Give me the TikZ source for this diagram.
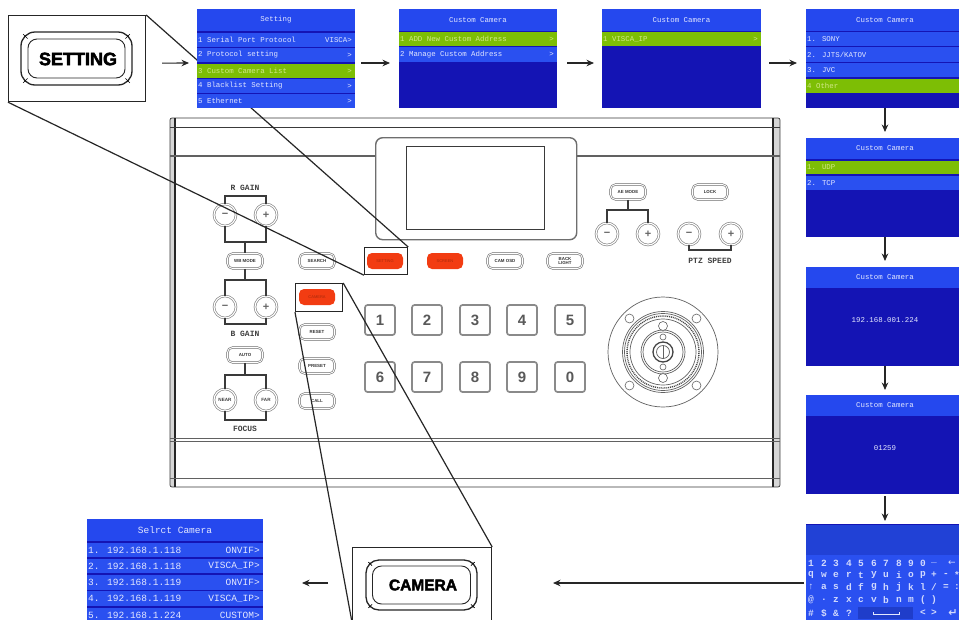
\documentclass[tikz,border=0pt]{standalone}
\usepackage{fontspec}
\setmainfont{Liberation Sans}
\newfontfamily\scrfont{Liberation Mono}
\newfontfamily\symfont{DejaVu Sans}
\newfontfamily\heavyfont[FakeBold=2.5]{Liberation Sans Bold}
\usetikzlibrary{arrows.meta}
\definecolor{hdrblue}{HTML}{2548EE}
\definecolor{rowblue}{HTML}{2A50F0}
\definecolor{darkblue}{HTML}{1414B4}
\definecolor{selgreen}{HTML}{7DBE05}
\definecolor{btnred}{HTML}{F23C12}
\definecolor{linegray}{HTML}{3A3A3A}
\definecolor{softgray}{HTML}{8A8A8A}
\definecolor{txtw}{HTML}{E4E8FF}
\definecolor{txtg}{HTML}{D2E88A}
\newcounter{rw}
\tikzset{
  screen/.style={anchor=north west,fill=darkblue,inner sep=0pt,outer sep=0pt,minimum height=99pt},
  band/.style={anchor=north west,inner sep=0pt,outer sep=0pt},
  stxt/.style={inner sep=0pt,text=txtw,font=\scrfont\fontsize{7.4}{8}\selectfont},
  gtxt/.style={stxt,text=txtg},
  bigtxt/.style={inner sep=0pt,text=txtw,font=\scrfont\fontsize{9.5}{10}\selectfont},
  flow/.style={draw=black!85,line width=1.1pt,-{Stealth[length=7.5pt,width=6.5pt]}},
  callout/.style={draw=black!85,line width=1.2pt},
  calloutbox/.style={callout,anchor=north west,inner sep=0pt},
  pline/.style={draw=linegray,line width=.7pt},
  pthick/.style={draw=linegray,line width=1.6pt},
  pbtn/.style={draw=softgray!80!black,line width=.6pt,double=white,double distance=.9pt,fill=white,rounded corners=5pt,
     minimum width=35pt,minimum height=15pt,inner sep=0pt,font=\bfseries\fontsize{4.4}{4.6}\selectfont,align=center,text=black!80},
  redbtn/.style={fill=btnred,draw=none,rounded corners=5pt,minimum width=36pt,minimum height=16pt,inner sep=0pt,
     font=\fontsize{4}{4}\selectfont,text=btnred!70!black},
  rbtn/.style={circle,draw=softgray,line width=.7pt,double=white,double distance=1.1pt,fill=white,minimum size=22pt,inner sep=0pt,
     font=\bfseries\fontsize{4.6}{5}\selectfont,text=black!75},
  sym/.style={rbtn,font=\bfseries\fontsize{11}{11}\selectfont,text=black!60},
  numkey/.style={draw=softgray,line width=1.7pt,fill=white,rounded corners=2.5pt,minimum size=30pt,inner sep=0pt,
     font=\bfseries\fontsize{15}{15}\selectfont,text=black!65},
  plabel/.style={inner sep=0pt,font=\scrfont\bfseries\fontsize{8}{8}\selectfont,text=black!75},
  bigbtn/.style={draw=black!85,line width=1pt,rounded corners=#1,inner sep=0pt},
  bigbtn/.default=12pt,
  key/.style={inner sep=0pt,text=txtw!90!rowblue,font=\scrfont\bfseries\fontsize{9.5}{10}\selectfont},
  jring/.style={draw=softgray!70!black,line width=.7pt},
  brk/.style={draw=linegray,line width=1.2pt},
}
% screen: name, x, y, width
\newcommand\scrn[4]{\node[screen,minimum width=#4pt] (#1) at (#2,#3) {};\def\curw{#4}}
% band: screen, dy, height, colour, style of text, left text, right text
\newcommand\scrband[7]{\stepcounter{rw}%
  \path (#1.north west) ++(0,#2) node[band,fill=#4,minimum width=\curw pt,minimum height=#3pt] (b\arabic{rw}) {};
  \node[#5,anchor=west] (bl\arabic{rw}) at ([xshift=1pt]b\arabic{rw}.west) {#6};
  \node[#5,anchor=east] (br\arabic{rw}) at ([xshift=-3pt]b\arabic{rw}.east) {#7};}
\newcommand\scrhead[3]{\stepcounter{rw}%
  \path (#1.north west) ++(0,0) node[band,fill=hdrblue,minimum width=\curw pt,minimum height=#3pt,stxt,align=center] (b\arabic{rw}) {#2};}
\begin{document}
\begin{tikzpicture}[x=1pt,y=-1pt]
\clip (0,0) rectangle (959,619);
\fill[white] (0,0) rectangle (959,619);

% ---------- console panel ----------
\fill[softgray!35] (170,118) rectangle (175,487);
\fill[softgray!35] (773,118) rectangle (780,487);
\draw[pline,rounded corners=2pt] (170,118) rectangle (780,487);
\draw[line width=1.6pt,draw=black!85] (175,118) -- (175,487);
\draw[line width=1.6pt,draw=black!85] (773,118) -- (773,487);
\draw[pline] (170,127) -- (780,127);
\draw[pthick,draw=softgray!70!black] (170,156) -- (375,156);
\draw[pthick,draw=softgray!70!black] (576,156) -- (780,156);
\draw[pline,draw=softgray!70!black] (170,438) -- (780,438);
\draw[pline,draw=softgray!70!black] (170,441) -- (780,441);
\draw[pline,draw=softgray!70!black] (170,478) -- (780,478);

% display
\node[draw=softgray!80!black,line width=1.4pt,rounded corners=7pt,minimum width=201pt,minimum height=102pt,inner sep=0pt,anchor=north west] (bezel) at (375,137) {};
\node[draw=linegray,line width=.8pt,minimum width=138pt,minimum height=83pt,inner sep=0pt,anchor=north west] (lcd) at (406,146) {};

% rocker groups
\node[sym] (rm) at (225,215) {−};
\node[sym] (rp) at (266,215) {+};
\node[plabel] (rgain) at (245,188) {R GAIN};
\coordinate (rtop) at (245,196);
\coordinate (rbot) at (245,242);
\draw[brk] (rm.north) |- (rtop) -| (rp.north);
\draw[brk] (rm.south) |- (rbot) -| (rp.south);
\node[pbtn] (wb) at (245,261) {WB MODE};
\draw[brk] (rbot) -- (wb.north);
\node[sym] (bm) at (225,307) {−};
\node[sym] (bp) at (266,307) {+};
\coordinate (btop) at (245,280);
\coordinate (bbot) at (245,324);
\draw[brk] (bm.north) |- (btop) -| (bp.north);
\draw[brk] (bm.south) |- (bbot) -| (bp.south);
\draw[brk] (wb.south) -- (btop);
\node[plabel] (bgain) at (245,334) {B GAIN};
\node[pbtn] (auto) at (245,355) {AUTO};
\node[rbtn] (near) at (225,400) {NEAR};
\node[rbtn] (far) at (266,400) {FAR};
\coordinate (atop) at (245,375);
\coordinate (abot) at (245,420);
\draw[brk] (auto.south) -- (atop);
\draw[brk] (near.north) |- (atop) -| (far.north);
\draw[brk] (near.south) |- (abot) -| (far.south);
\node[plabel] (focus) at (245,429) {FOCUS};

% column of buttons
\node[pbtn] (search) at (317,261) {SEARCH};
\node[redbtn] (camred) at (317,297) {CAMERA};
\node[pbtn] (reset) at (317,332) {RESET};
\node[pbtn] (preset) at (317,366) {PRESET};
\node[pbtn] (call) at (317,401) {CALL};
\node[redbtn] (setred) at (385,261) {SETTING};
\node[redbtn] (red2) at (445,261) {SCREEN};
\node[pbtn] (camosd) at (505,261) {CAM OSD};
\node[pbtn] (back) at (565,261) {BACK\\LIGHT};

% right rockers
\node[pbtn] (ae) at (628,192) {AE MODE};
\node[pbtn] (lock) at (710,192) {LOCK};
\node[sym] (am) at (607,234) {−};
\node[sym] (ap) at (648,234) {+};
\coordinate (aetop) at (628,210);
\draw[brk] (ae.south) -- (aetop);
\draw[brk] (am.north) |- (aetop) -| (ap.north);
\node[sym] (pm) at (689,234) {−};
\node[sym] (pp) at (731,234) {+};
\coordinate (ptzbot) at (710,250);
\draw[brk] (pm.south) |- (ptzbot) -| (pp.south);
\node[plabel] (ptz) at (710,261) {PTZ SPEED};

% number keys
\foreach \n/\x/\y in {1/380/320,2/427/320,3/475/320,4/522/320,5/570/320,6/380/377,7/427/377,8/475/377,9/522/377,0/570/377}
  \node[numkey] (key\n) at (\x,\y) {\n};

% joystick
\coordinate (joy) at (663,352);
\draw[jring] (joy) circle[radius=55pt];
\draw[jring] (joy) circle[radius=40.5pt];
\draw[jring] (joy) circle[radius=38.5pt];
\draw[softgray!50!black,line width=1.4pt,dash pattern=on 1pt off .9pt] (joy) circle[radius=36pt];
\draw[jring] (joy) circle[radius=33pt];
\draw[jring] (joy) circle[radius=22pt];
\draw[jring] (joy) circle[radius=20pt];
\draw[draw=softgray!50!black,line width=1.3pt] (joy) circle[radius=10pt];
\draw[jring] (joy) circle[radius=6.5pt];
\draw[jring] (663,345.5) -- (663,358.5);
\foreach \dx/\dy in {-33.5/-33.5,33.5/-33.5,-33.5/33.5,33.5/33.5}
  \draw[jring,line width=.6pt] (663+\dx,352+\dy) circle[radius=4.5pt];
\foreach \dy/\r in {-26/4.5,-15/3,15/3,26/4.5}
  \draw[jring,line width=.6pt,fill=white] (663,352+\dy) circle[radius=\r pt];

% ---------- callouts ----------
\node[calloutbox,minimum width=137pt,minimum height=86pt] (setbig) at (8,15) {};
\node[calloutbox,minimum width=43pt,minimum height=27pt] (setsmall) at (364,247) {};
\draw[callout] (setbig.north east) -- (setsmall.north east);
\draw[callout] (setbig.south west) -- (setsmall.south west);
\node[bigbtn=14pt,minimum width=111pt,minimum height=53pt,line width=1.3pt] (setbtn) at (76.5,58.5) {};
\node[bigbtn=9pt,minimum width=97pt,minimum height=39pt,line width=.9pt] (setbtnin) at (76.5,58.5) {};
\foreach \a in {north west,north east,south west,south east}
  \draw[line width=.7pt,shorten <=4pt] (setbtn.\a) -- (setbtnin.\a);
\node[inner sep=0pt,font=\heavyfont\fontsize{18}{19}\selectfont,text=black] (settxt) at (78,59) {SETTING};

\node[calloutbox,minimum width=47pt,minimum height=28pt] (camsmall) at (295,283) {};
\node[calloutbox,minimum width=139pt,minimum height=74pt] (cambig) at (352,547) {};
\draw[callout] (camsmall.north east) -- (cambig.north east);
\draw[callout] (camsmall.south west) -- (cambig.south west);
\node[bigbtn=13pt,minimum width=111pt,minimum height=50pt,line width=1.3pt] (cambtn) at (421.5,585) {};
\node[bigbtn=9pt,minimum width=98pt,minimum height=38pt,line width=.9pt] (cambtnin) at (421.5,585) {};
\foreach \a in {north west,north east,south west,south east}
  \draw[line width=.7pt,shorten <=4pt] (cambtn.\a) -- (cambtnin.\a);
\node[inner sep=0pt,font=\heavyfont\fontsize{15.5}{16}\selectfont,text=black] (camtxt) at (423,585) {CAMERA};

% ---------- screens ----------
\scrn{s1}{197}{9}{158}
\scrhead{s1}{Setting}{22}
\scrband{s1}{24}{14}{rowblue}{stxt}{1 Serial Port Protocol}{VISCA>}
\scrband{s1}{39}{14}{rowblue}{stxt}{2 Protocol setting}{>}
\scrband{s1}{55}{14}{selgreen}{gtxt}{3 Custom Camera List}{>}
\scrband{s1}{70}{14}{rowblue}{stxt}{4 Blacklist Setting}{>}
\scrband{s1}{85}{14}{rowblue}{stxt}{5 Ethernet}{>}

\scrn{s2}{399}{9}{158}
\scrhead{s2}{Custom Camera}{22}
\scrband{s2}{23}{14}{selgreen}{gtxt}{1 ADD New Custom Address}{>}
\scrband{s2}{38}{15}{rowblue}{stxt}{2 Manage Custom Address}{>}

\scrn{s3}{602}{9}{159}
\scrhead{s3}{Custom Camera}{22}
\scrband{s3}{23}{14}{selgreen}{gtxt}{1 VISCA\_IP}{>}

\scrn{s4}{806}{9}{158}
\scrhead{s4}{Custom Camera}{22}
\scrband{s4}{23}{14}{rowblue}{stxt}{1. SONY}{}
\scrband{s4}{38}{15}{rowblue}{stxt}{2. JJTS/KATOV}{}
\scrband{s4}{54}{14}{rowblue}{stxt}{3. JVC}{}
\scrband{s4}{70}{14}{selgreen}{gtxt}{4 Other}{}

\scrn{s5}{806}{138}{158}
\scrhead{s5}{Custom Camera}{21}
\scrband{s5}{23}{13}{selgreen}{gtxt}{1. UDP}{}
\scrband{s5}{38}{14}{rowblue}{stxt}{2. TCP}{}

\scrn{s6}{806}{267}{158}
\scrhead{s6}{Custom Camera}{21}
\node[stxt] (ipval) at (885,320) {192.168.001.224};

\scrn{s7}{806}{395}{158}
\scrhead{s7}{Custom Camera}{21}
\node[stxt] (portval) at (885,448) {01259};

\scrn{s8}{806}{524}{158}
\fill[rowblue] (806,555) rectangle (964,623);
\fill[hdrblue!90!black] (806,525) rectangle (964,555);
\foreach \kc/\x/\y in {1/811/563,2/824/563,3/836/563,4/849/563,5/861/563,6/874/563,7/886/563,8/899/563,9/911/563,0/923/563,{\_}/934/563,
  q/811/575,w/824/575,e/836/575,r/849/575,t/861/575,y/874/575,u/886/575,i/899/575,o/911/575,p/923/575,{+}/934/575,{-}/946/575,{*}/957/575,
  a/824/587,s/836/587,d/849/587,f/861/587,g/874/587,h/886/587,j/899/587,k/911/587,l/923/587,{/}/934/587,{=}/946/587,{:}/957/587,
  {@}/811/600,{.}/824/600,z/836/600,x/849/600,c/861/600,v/874/600,b/886/600,n/899/600,m/911/600,{(}/923/600,{)}/934/600,
  {\#}/811/613,{\$}/824/613,{\&}/836/613,{?}/849/613,{<}/923/613,{>}/934/613}
  \node[key] (kk\x-\y) at (\x,\y) {\kc};
\node[key] (kshift) at (811,587) {↑};
\node[key,font=\symfont\fontsize{9}{9}\selectfont] (kback) at (952,563) {←};
\node[key,font=\symfont\bfseries\fontsize{11}{11}\selectfont] (kenter) at (953,613) {↵};
\fill[hdrblue!85!black] (858,607) rectangle (913,619);
\draw[txtw,line width=.7pt] (873,612) |- (899,614) -- (899,612);

\scrn{s9}{87}{519}{176}
\scrhead{s9}{\fontsize{9.5}{10}\selectfont Selrct Camera}{22}
\scrband{s9}{24}{14}{rowblue}{bigtxt}{1. 192.168.1.118}{ONVIF>}
\scrband{s9}{40}{14}{rowblue}{bigtxt}{2. 192.168.1.118}{VISCA\_IP>}
\scrband{s9}{56}{15}{rowblue}{bigtxt}{3. 192.168.1.119}{ONVIF>}
\scrband{s9}{72}{15}{rowblue}{bigtxt}{4. 192.168.1.119}{VISCA\_IP>}
\scrband{s9}{89}{15}{rowblue}{bigtxt}{5. 192.168.1.224}{CUSTOM>}

% ---------- flow arrows ----------
\draw[flow] ([xshift=16pt,yshift=-4.5pt]setbig.east) -- ([xshift=-8pt,yshift=-4.5pt]s1.west);
\draw[flow] ([xshift=6pt,yshift=-4.5pt]s1.east) -- ([xshift=-9pt,yshift=-4.5pt]s2.west);
\draw[flow] ([xshift=10pt,yshift=-4.5pt]s2.east) -- ([xshift=-8pt,yshift=-4.5pt]s3.west);
\draw[flow] ([xshift=8pt,yshift=-4.5pt]s3.east) -- ([xshift=-9pt,yshift=-4.5pt]s4.west);
\draw[flow] (s4.south) -- ([yshift=6pt]s5.north);
\draw[flow] (s5.south) -- ([yshift=6pt]s6.north);
\draw[flow] (s6.south) -- ([yshift=5pt]s7.north);
\draw[flow] ([yshift=-2pt]s7.south) -- ([yshift=3pt]s8.north);
\coordinate (kbin) at (804,583);
\coordinate (camout) at (553,583);
\draw[flow] (kbin) -- (camout);
\coordinate (cr) at (328,583);
\coordinate (cl) at (302,583);
\draw[flow] (cr) -- (cl);
\end{tikzpicture}
\end{document}
